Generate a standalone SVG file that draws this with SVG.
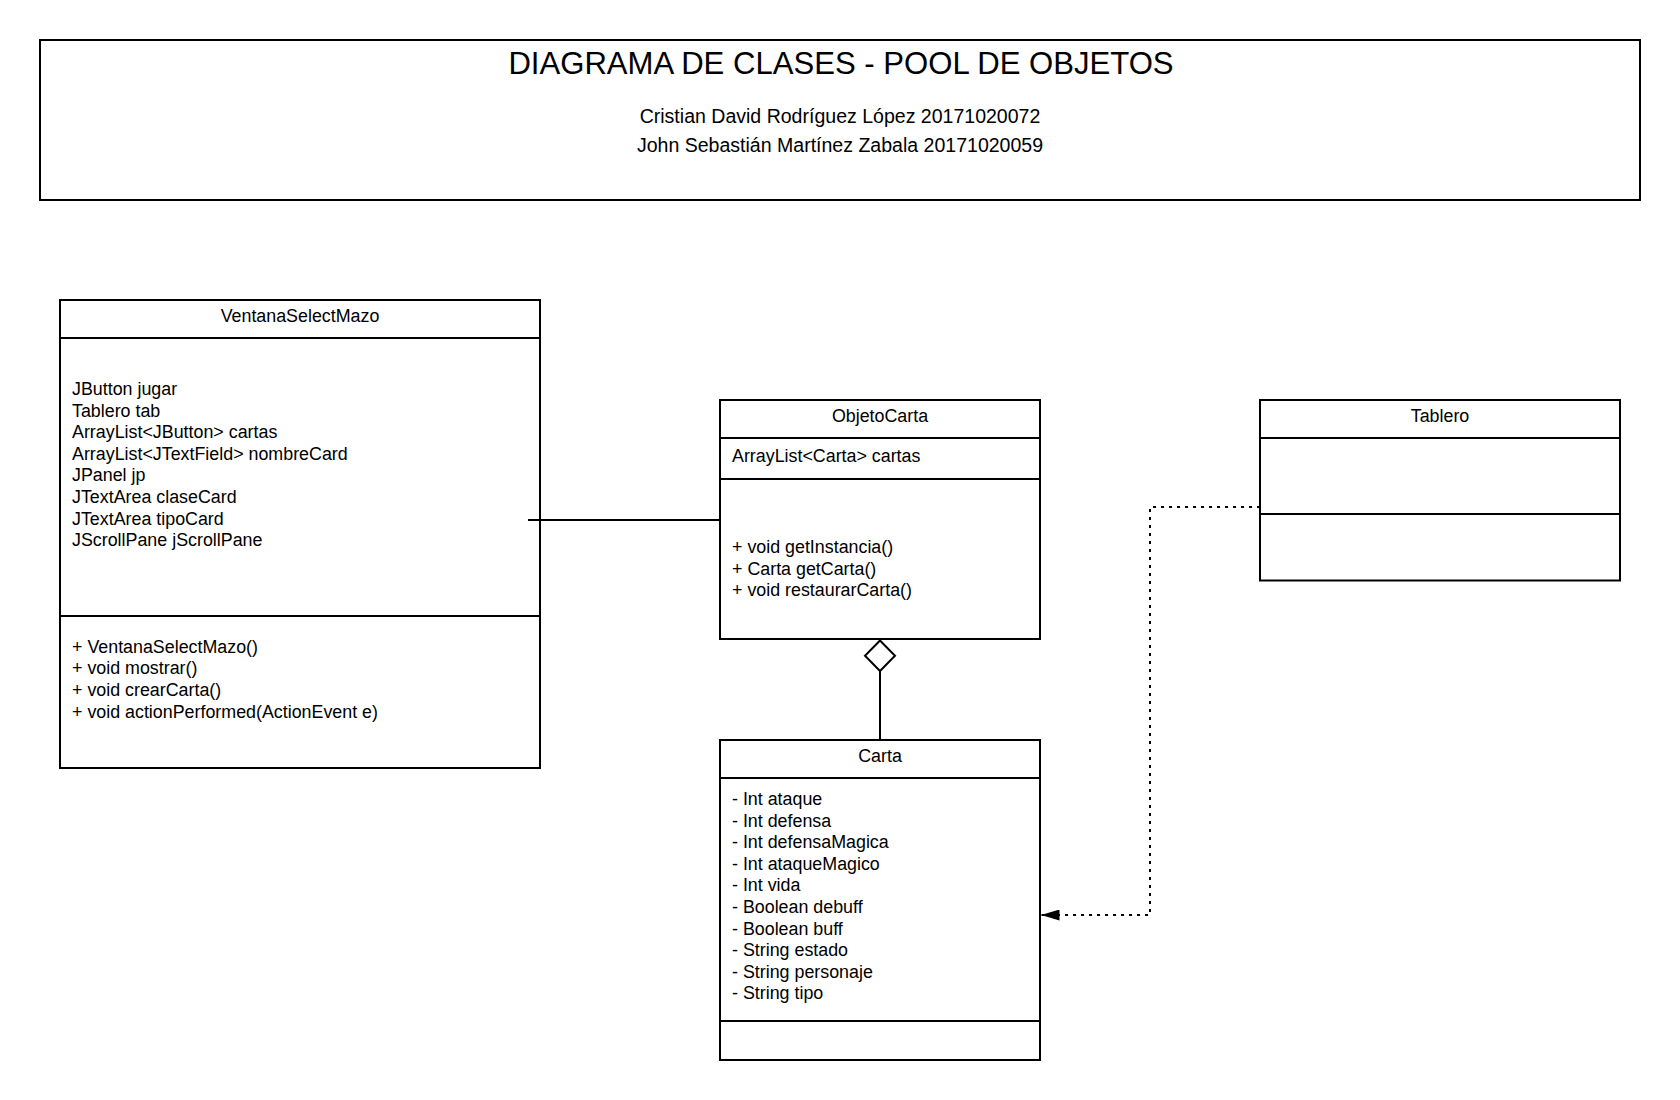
<svg xmlns="http://www.w3.org/2000/svg" width="1680" height="1100" viewBox="0 0 1680 1100">
<defs>
<style>
.box{fill:#fff;stroke:#000;stroke-width:2}
.sep{stroke:#000;stroke-width:2;fill:none}
.t{font-family:"Liberation Sans",Arial,sans-serif;font-size:17.85px;fill:#000}
.c{text-anchor:middle}
.edge{stroke:#000;stroke-width:2;fill:none}
.dot{stroke:#000;stroke-width:2;fill:none;stroke-dasharray:3 5}
</style>
<marker id="arrow" viewBox="0 0 18 11" refX="18" refY="5.5" markerWidth="18" markerHeight="11" markerUnits="userSpaceOnUse" orient="auto">
<path d="M0,0 L18,5.5 L0,11 z" fill="#000" stroke="none"/>
</marker>
</defs>
<rect width="1680" height="1100" fill="#fff"/>

<g id="title">
<rect x="40" y="40" width="1600" height="160" class="box"/>
<text x="841" y="73.5" class="t c" style="font-size:31.1px">DIAGRAMA DE CLASES - POOL DE OBJETOS</text>
<text x="840" y="122.5" class="t c" style="font-size:19.55px">Cristian David Rodríguez López 20171020072</text>
<text x="840" y="152" class="t c" style="font-size:19.55px">John Sebastián Martínez Zabala 20171020059</text>
</g>

<g id="VentanaSelectMazo">
<rect x="60" y="300" width="480" height="468" class="box"/>
<line x1="60" y1="338" x2="540" y2="338" class="sep"/>
<line x1="60" y1="616" x2="540" y2="616" class="sep"/>
<text x="300" y="322.3" class="t c">VentanaSelectMazo</text>
<text class="t">
<tspan x="72" y="395">JButton jugar</tspan>
<tspan x="72" y="416.6">Tablero tab</tspan>
<tspan x="72" y="438.2">ArrayList&lt;JButton&gt; cartas</tspan>
<tspan x="72" y="459.8">ArrayList&lt;JTextField&gt; nombreCard</tspan>
<tspan x="72" y="481.4">JPanel jp</tspan>
<tspan x="72" y="503">JTextArea claseCard</tspan>
<tspan x="72" y="524.6">JTextArea tipoCard</tspan>
<tspan x="72" y="546.2">JScrollPane jScrollPane</tspan>
</text>
<text class="t">
<tspan x="72" y="652.7">+ VentanaSelectMazo()</tspan>
<tspan x="72" y="674.3">+ void mostrar()</tspan>
<tspan x="72" y="695.9">+ void crearCarta()</tspan>
<tspan x="72" y="717.5">+ void actionPerformed(ActionEvent e)</tspan>
</text>
</g>

<g id="ObjetoCarta">
<rect x="720" y="400" width="320" height="239" class="box"/>
<line x1="720" y1="438" x2="1040" y2="438" class="sep"/>
<line x1="720" y1="479" x2="1040" y2="479" class="sep"/>
<text x="880" y="422.3" class="t c">ObjetoCarta</text>
<text x="732" y="462.3" class="t">ArrayList&lt;Carta&gt; cartas</text>
<text class="t">
<tspan x="732" y="553">+ void getInstancia()</tspan>
<tspan x="732" y="574.5">+ Carta getCarta()</tspan>
<tspan x="732" y="596">+ void restaurarCarta()</tspan>
</text>
</g>

<g id="Tablero">
<rect x="1260" y="400" width="360" height="180.5" class="box"/>
<line x1="1260" y1="438" x2="1620" y2="438" class="sep"/>
<line x1="1260" y1="514" x2="1620" y2="514" class="sep"/>
<text x="1440" y="422.3" class="t c">Tablero</text>
</g>

<g id="Carta">
<rect x="720" y="740" width="320" height="320" class="box"/>
<line x1="720" y1="778" x2="1040" y2="778" class="sep"/>
<line x1="720" y1="1021" x2="1040" y2="1021" class="sep"/>
<text x="880" y="762.3" class="t c">Carta</text>
<text class="t">
<tspan x="732" y="805">- Int ataque</tspan>
<tspan x="732" y="826.6">- Int defensa</tspan>
<tspan x="732" y="848.2">- Int defensaMagica</tspan>
<tspan x="732" y="869.8">- Int ataqueMagico</tspan>
<tspan x="732" y="891.4">- Int vida</tspan>
<tspan x="732" y="913">- Boolean debuff</tspan>
<tspan x="732" y="934.6">- Boolean buff</tspan>
<tspan x="732" y="956.2">- String estado</tspan>
<tspan x="732" y="977.8">- String personaje</tspan>
<tspan x="732" y="999.4">- String tipo</tspan>
</text>
</g>

<g id="connectors">
<line x1="528" y1="520" x2="720" y2="520" class="edge"/>
<line x1="880" y1="671" x2="880" y2="740" class="edge"/>
<polygon points="880,640.5 895,655.7 880,671 865,655.7" fill="#fff" stroke="#000" stroke-width="2"/>
<path d="M1260,507 H1150 V915 H1041.5" class="dot" marker-end="url(#arrow)"/>
</g>
</svg>
